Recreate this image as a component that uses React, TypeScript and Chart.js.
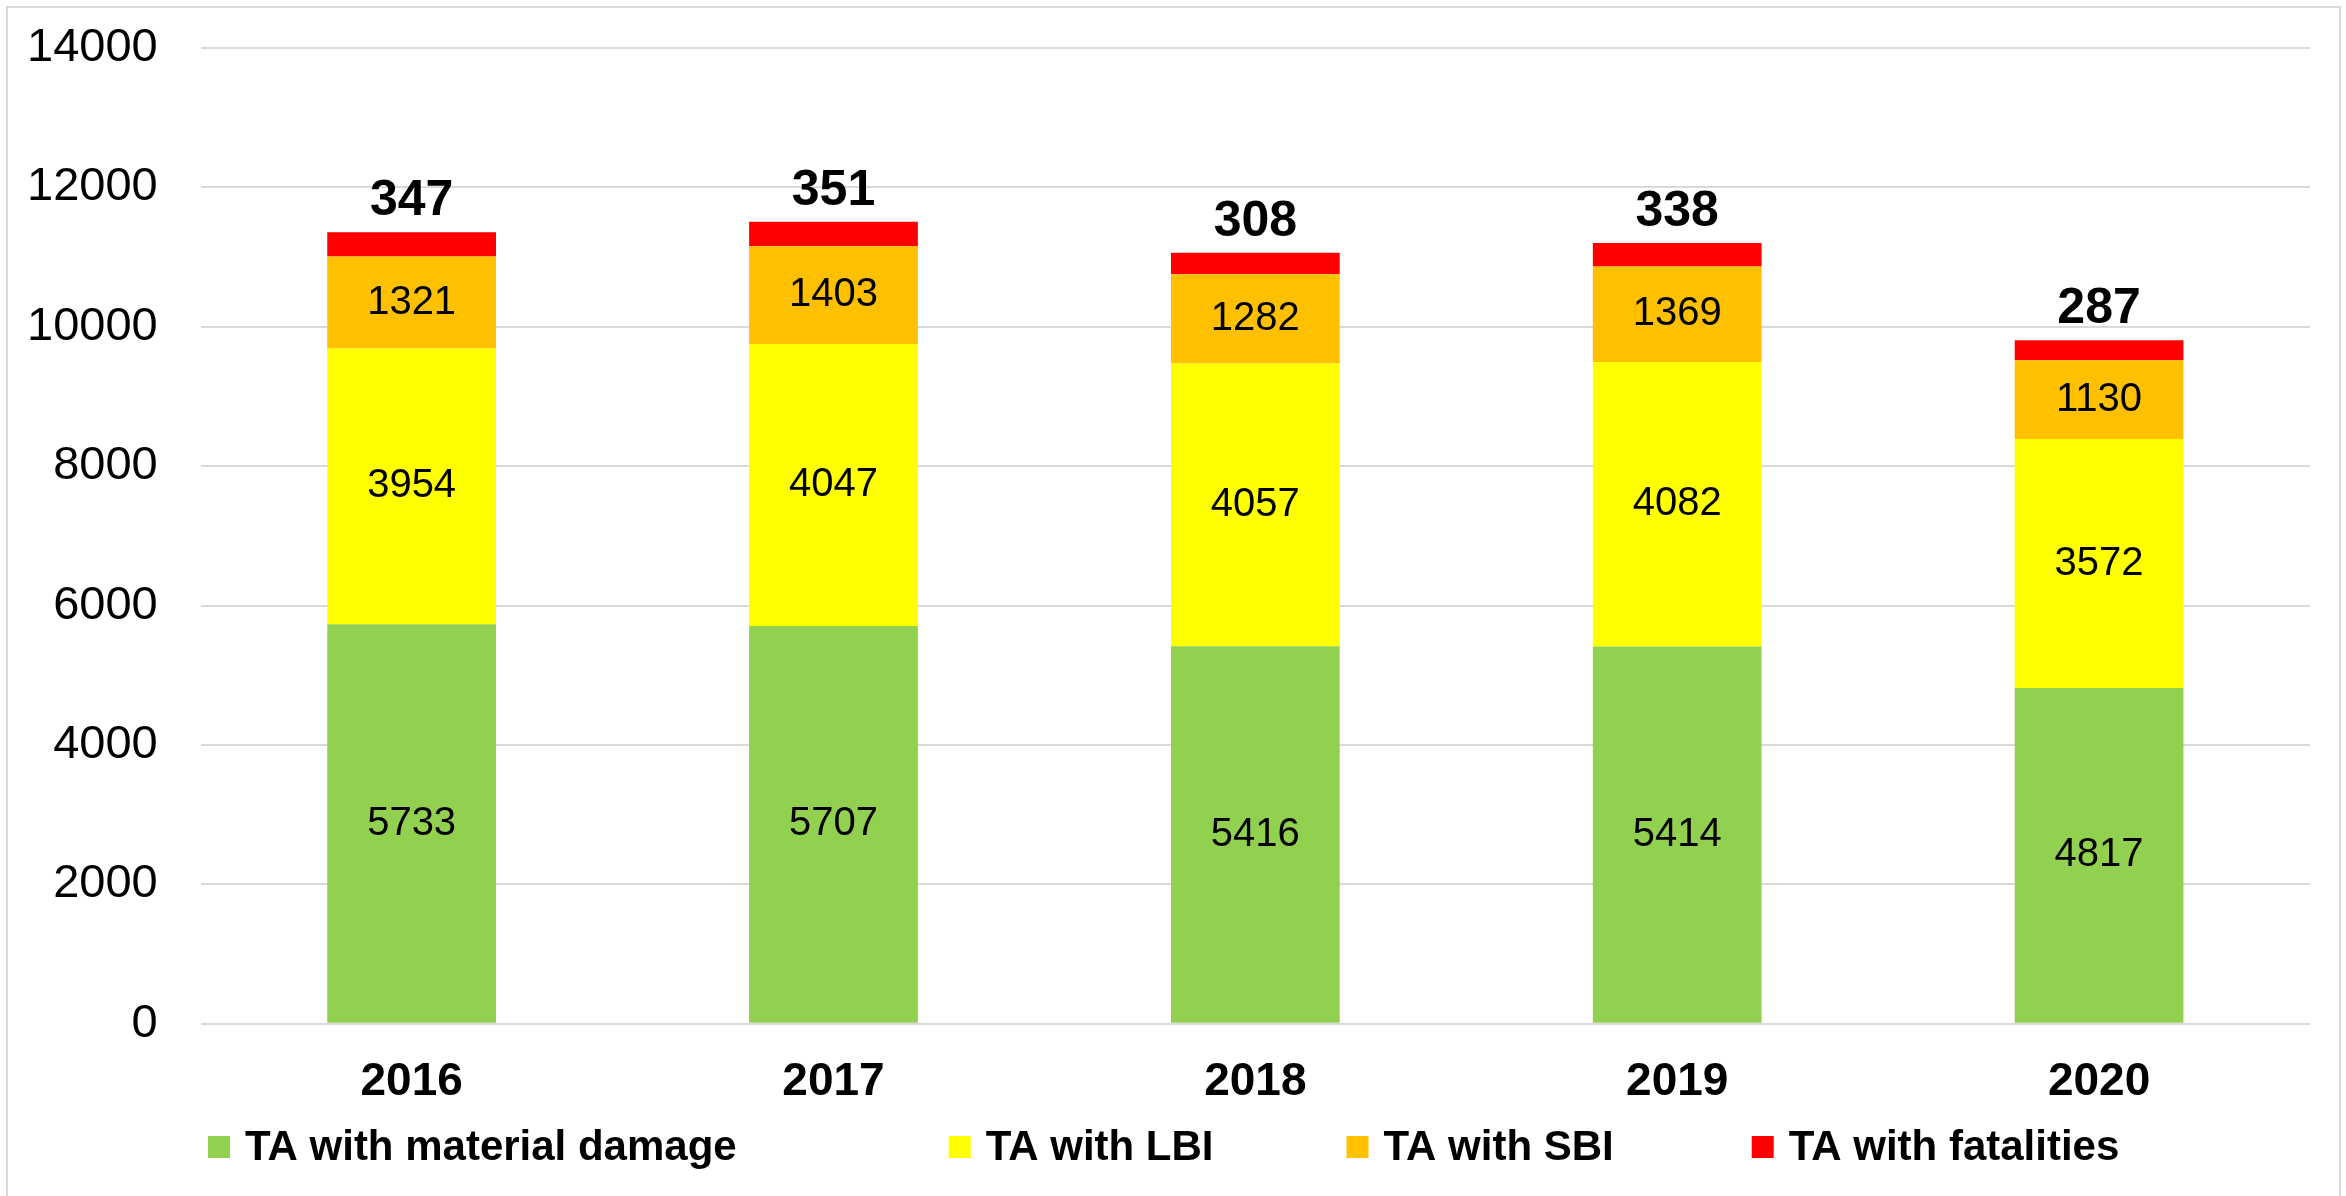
import React, { useEffect, useRef } from "react";
import { Chart, registerables } from "chart.js";

Chart.register(...registerables);

const categories = ["2016", "2017", "2018", "2019", "2020"];
const materialDamage = [5733, 5707, 5416, 5414, 4817];
const lbi = [3954, 4047, 4057, 4082, 3572];
const sbi = [1321, 1403, 1282, 1369, 1130];
const fatalities = [347, 351, 308, 338, 287];

const seriesLabels = [
  "TA with material damage",
  "TA with LBI",
  "TA with SBI",
  "TA with fatalities",
];
const seriesColors = ["#92D050", "#FFFF00", "#FFC000", "#FF0000"];

const yTicks = [0, 2000, 4000, 6000, 8000, 10000, 12000, 14000];

const FONT = "'Liberation Sans', Arial, Helvetica, sans-serif";
const Y_TICK_PAD = 43;

const valueLabelPlugin = {
  id: "valueLabels",
  afterDatasetsDraw(chart: any) {
    const ctx = chart.ctx;
    ctx.save();
    ctx.fillStyle = "#000";
    ctx.textAlign = "center";
    chart.data.datasets.forEach((ds: any, di: number) => {
      const meta = chart.getDatasetMeta(di);
      meta.data.forEach((bar: any, i: number) => {
        const v = ds.data[i];
        if (di < 3) {
          ctx.font = `40px ${FONT}`;
          ctx.textBaseline = "middle";
          ctx.fillText(String(v), bar.x, (bar.y + bar.base) / 2);
        } else {
          ctx.font = `bold 50px ${FONT}`;
          ctx.textBaseline = "alphabetic";
          ctx.fillText(String(v), bar.x, bar.y - 17);
        }
      });
    });
    ctx.restore();
  },
};

const legendStartX = 208;
const legendGaps = [212, 133, 138];
const legendBoxTextGap = 15;

const customLegendPlugin = {
  id: "customLegend",
  afterDraw(chart: any) {
    const ctx = chart.ctx;
    ctx.save();
    ctx.font = `bold 42px ${FONT}`;
    ctx.textBaseline = "middle";
    ctx.textAlign = "left";
    const cy = 1147;
    let x = legendStartX;
    chart.data.datasets.forEach((ds: any, i: number) => {
      ctx.fillStyle = ds.backgroundColor;
      ctx.fillRect(x, cy - 11, 22, 22);
      ctx.fillStyle = "#000";
      const tx = x + 22 + legendBoxTextGap;
      ctx.fillText(ds.label, tx, cy + 1);
      const w = ctx.measureText(ds.label).width;
      x = tx + w + (legendGaps[i] || 0);
    });
    ctx.restore();
  },
};

export default function App() {
  const canvasRef = useRef<HTMLCanvasElement | null>(null);

  useEffect(() => {
    document.body.style.margin = "0";
    const canvas = canvasRef.current;
    if (!canvas) return;
    const values = [materialDamage, lbi, sbi, fatalities];
    const chart = new Chart(canvas, {
      type: "bar",
      data: {
        labels: categories,
        datasets: values.map((d, i) => ({
          label: seriesLabels[i],
          data: d,
          backgroundColor: seriesColors[i],
          borderWidth: 0,
          barPercentage: 0.4,
          categoryPercentage: 1.0,
        })),
      },
      options: {
        animation: false,
        responsive: false,
        devicePixelRatio: 1,
        layout: { padding: { left: 27, right: 36, top: 48, bottom: 55 } },
        plugins: {
          legend: { display: false },
          tooltip: { enabled: false },
          title: { display: false },
        },
        scales: {
          x: {
            stacked: true,
            grid: { display: false, drawTicks: false },
            border: { display: false },
            ticks: {
              color: "#000",
              font: { family: FONT, size: 46, weight: "bold" },
              padding: 31,
            },
          },
          y: {
            stacked: true,
            min: 0,
            max: 14000,
            afterBuildTicks: (axis: any) => {
              axis.ticks = yTicks.map((v) => ({ value: v }));
            },
            afterFit: (axis: any) => {
              axis.width -= Y_TICK_PAD;
              axis.paddingTop = 0;
              axis.paddingBottom = 0;
            },
            grid: { color: "#D9D9D9", lineWidth: 2, drawTicks: false },
            border: { display: false },
            ticks: {
              color: "#000",
              font: { family: FONT, size: 47 },
              padding: Y_TICK_PAD,
              callback: (v: any) => String(v),
            },
          },
        },
      },
      plugins: [valueLabelPlugin, customLegendPlugin],
    });
    return () => chart.destroy();
  }, []);

  return (
    <div
      style={{
        position: "relative",
        width: 2346,
        height: 1196,
        overflow: "hidden",
        background: "#fff",
      }}
    >
      <canvas ref={canvasRef} width={2346} height={1196} style={{ display: "block" }} />
      <div
        style={{
          position: "absolute",
          left: 6,
          top: 6,
          width: 2335,
          height: 1220,
          boxSizing: "border-box",
          border: "2px solid #D9D9D9",
          pointerEvents: "none",
        }}
      />
    </div>
  );
}
